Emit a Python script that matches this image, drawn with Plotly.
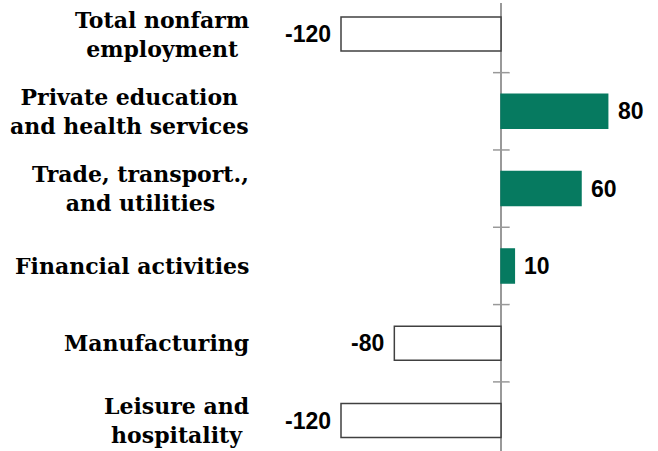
import plotly.graph_objects as go

categories = ["Total nonfarm<br>employment", "Private education<br>and health services",
              "Trade, transport.,<br>and utilities", "Financial activities",
              "Manufacturing", "Leisure and<br>hospitality"]
values = [-120, 80, 60, 10, -80, -120]
value_labels = ["-120", "80", "60", "10", "-80", "-120"]

GREEN = "#067A60"
idx = list(range(len(categories)))
fills = [GREEN if v > 0 else "white" for v in values]
lines = [GREEN if v > 0 else "#404040" for v in values]

fig = go.Figure(go.Bar(
    x=values, y=idx, orientation="h", width=0.44,
    marker=dict(color=fills, line=dict(color=lines, width=1.5)),
    hoverinfo="skip",
))

ann = []
for i, (c, v, t) in enumerate(zip(categories, values, value_labels)):
    ann.append(dict(x=0, xref="paper", y=i, yref="y", text=c, showarrow=False,
                    xanchor="right", yanchor="middle", align="center", xshift=1,
                    font=dict(family="DejaVu Serif", size=22, color="black", weight="bold")))
    ann.append(dict(x=v, y=i, xref="x", yref="y", text="<b>%s</b>" % t, showarrow=False,
                    xanchor="left" if v > 0 else "right", yanchor="middle",
                    xshift=8 if v > 0 else -8,
                    font=dict(family="Liberation Sans", size=23, color="black")))

shapes = []
for b in [0.5, 1.5, 2.5, 3.5, 4.5]:
    shapes.append(dict(type="line", xref="x", yref="y", x0=-6, x1=6.5, y0=b, y1=b,
                       line=dict(color="#999999", width=1.5)))

fig.update_layout(
    width=658, height=451, margin=dict(l=250, r=8, t=3, b=0),
    paper_bgcolor="white", plot_bgcolor="white", showlegend=False,
    xaxis=dict(range=[-188.25, 111.75], showgrid=False, showticklabels=False, ticks="",
               zeroline=True, zerolinecolor="#999999", zerolinewidth=1.5, showline=False),
    yaxis=dict(range=[5.394, -0.401], showgrid=False, showticklabels=False, ticks="",
               zeroline=False, showline=False),
    annotations=ann, shapes=shapes,
)
fig.write_html("out.html", config={"displayModeBar": False},
               post_script="document.body.style.margin='0';document.body.style.overflow='hidden';")
